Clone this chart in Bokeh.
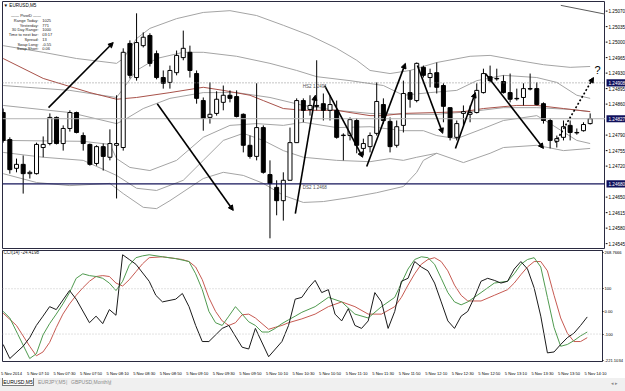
from bokeh.plotting import figure
from bokeh.models import (Range1d, LinearAxis, FixedTicker, Label, Arrow, NormalHead, Span, Div,
                          ColumnDataSource)
from bokeh.layouts import column, row
from bokeh.embed import file_html
from bokeh.resources import INLINE

# ---------------- data ----------------
symbol = "EURUSD,M5"
time_labels = ["5 Nov 2014", "5 Nov 07:10", "5 Nov 07:30", "5 Nov 07:50", "5 Nov 08:10",
               "5 Nov 08:30", "5 Nov 08:50", "5 Nov 09:10", "5 Nov 09:30", "5 Nov 09:50",
               "5 Nov 10:10", "5 Nov 10:30", "5 Nov 10:50", "5 Nov 11:10", "5 Nov 11:30",
               "5 Nov 11:50", "5 Nov 12:10", "5 Nov 12:30", "5 Nov 12:50", "5 Nov 13:10",
               "5 Nov 13:30", "5 Nov 13:50", "5 Nov 14:10"]

opens = [1.24841, 1.24780, 1.24715, 1.24724, 1.24703, 1.24703, 1.24762, 1.24771, 1.24830, 1.24771,
         1.24805, 1.24841, 1.24789, 1.24769, 1.24726, 1.24764, 1.24740, 1.24767, 1.24762, 1.24997,
         1.24920, 1.24992, 1.25015, 1.24974, 1.24920, 1.24909, 1.24931, 1.24965, 1.24977, 1.24929,
         1.24868, 1.24830, 1.24839, 1.24864, 1.24880, 1.24877, 1.24837, 1.24767, 1.24742, 1.24807,
         1.24701, 1.24672, 1.24642, 1.24688, 1.24773, 1.24868, 1.24848, 1.24857, 1.24861, 1.24846,
         1.24846, 1.24789, 1.24789, 1.24823, 1.24760, 1.24764, 1.24794, 1.24859, 1.24821, 1.24767,
         1.24812, 1.24886, 1.24868, 1.24943, 1.24920, 1.24931, 1.24902, 1.24852, 1.24785, 1.24839,
         1.24837, 1.24841, 1.24886, 1.24922, 1.24918, 1.24911, 1.24886, 1.24873, 1.24875, 1.24895,
         1.24895, 1.24861, 1.24823, 1.24776, 1.24785, 1.24812, 1.24796, 1.24800, 1.24816]
highs = [1.24850, 1.24785, 1.24737, 1.24744, 1.24710, 1.24773, 1.24787, 1.24839, 1.24832, 1.24812,
         1.24846, 1.24843, 1.24796, 1.24771, 1.24767, 1.24771, 1.24803, 1.24880, 1.24986, 1.25004,
         1.25065, 1.25022, 1.25020, 1.24981, 1.24936, 1.24947, 1.24981, 1.25026, 1.24992, 1.24936,
         1.24875, 1.24909, 1.24889, 1.24902, 1.24891, 1.24891, 1.24839, 1.24789, 1.24907, 1.24812,
         1.24733, 1.24688, 1.24706, 1.24807, 1.24873, 1.24873, 1.24880, 1.24959, 1.24884, 1.24880,
         1.24868, 1.24794, 1.24830, 1.24828, 1.24782, 1.24796, 1.24909, 1.24873, 1.24830, 1.24823,
         1.24913, 1.24936, 1.24954, 1.24947, 1.24940, 1.24954, 1.24907, 1.24852, 1.24823, 1.24857,
         1.24857, 1.24907, 1.24940, 1.24947, 1.24940, 1.24925, 1.24929, 1.24895, 1.24907, 1.24929,
         1.24909, 1.24864, 1.24828, 1.24789, 1.24823, 1.24823, 1.24805, 1.24819, 1.24839]
lows = [1.24773, 1.24703, 1.24706, 1.24658, 1.24692, 1.24701, 1.24740, 1.24767, 1.24769, 1.24755,
        1.24798, 1.24794, 1.24755, 1.24721, 1.24721, 1.24710, 1.24733, 1.24647, 1.24755, 1.24918,
        1.24913, 1.24988, 1.24945, 1.24916, 1.24895, 1.24895, 1.24925, 1.24959, 1.24920, 1.24861,
        1.24800, 1.24816, 1.24834, 1.24846, 1.24864, 1.24830, 1.24751, 1.24737, 1.24733, 1.24703,
        1.24557, 1.24609, 1.24597, 1.24688, 1.24773, 1.24819, 1.24834, 1.24846, 1.24823, 1.24823,
        1.24782, 1.24733, 1.24778, 1.24749, 1.24744, 1.24751, 1.24789, 1.24816, 1.24751, 1.24762,
        1.24796, 1.24852, 1.24864, 1.24920, 1.24898, 1.24884, 1.24819, 1.24778, 1.24778, 1.24812,
        1.24819, 1.24839, 1.24884, 1.24909, 1.24913, 1.24884, 1.24864, 1.24868, 1.24857, 1.24891,
        1.24857, 1.24816, 1.24760, 1.24762, 1.24778, 1.24778, 1.24791, 1.24798, 1.24814]
closes = [1.24778, 1.24712, 1.24724, 1.24703, 1.24706, 1.24769, 1.24769, 1.24830, 1.24771, 1.24805,
          1.24841, 1.24796, 1.24771, 1.24724, 1.24764, 1.24742, 1.24771, 1.24771, 1.24977, 1.24925,
          1.24999, 1.25011, 1.24952, 1.24920, 1.24907, 1.24936, 1.24970, 1.24986, 1.24936, 1.24873,
          1.24828, 1.24837, 1.24871, 1.24880, 1.24873, 1.24832, 1.24767, 1.24742, 1.24807, 1.24706,
          1.24681, 1.24642, 1.24688, 1.24773, 1.24868, 1.24846, 1.24857, 1.24855, 1.24846, 1.24859,
          1.24785, 1.24790, 1.24825, 1.24767, 1.24771, 1.24789, 1.24866, 1.24823, 1.24764, 1.24809,
          1.24884, 1.24871, 1.24952, 1.24925, 1.24929, 1.24898, 1.24855, 1.24785, 1.24816, 1.24843,
          1.24841, 1.24891, 1.24929, 1.24913, 1.24917, 1.24886, 1.24871, 1.24872, 1.24895, 1.24894,
          1.24859, 1.24823, 1.24778, 1.24782, 1.24809, 1.24796, 1.24795, 1.24814, 1.24827]

# indicator lines (vertices: bar index, value)
ma_red_bars = [0, 6, 13, 17, 20, 25, 30, 33, 37, 39, 42, 45, 50, 52, 55, 57, 60, 65, 69, 72, 77, 80, 84, 88]
ma_red_vals = [1.24963, 1.24918, 1.24886, 1.24871, 1.24875, 1.24886, 1.24898, 1.24891, 1.24880, 1.24868,
               1.24850, 1.24846, 1.24846, 1.24841, 1.24834, 1.24834, 1.24839, 1.24841, 1.24843, 1.24850,
               1.24857, 1.24857, 1.24850, 1.24843]
band1_bars = [0, 6, 11, 17, 18, 20, 22, 26, 30, 34, 38, 42, 46, 50, 53, 55, 58, 61, 65, 70, 73, 77, 81, 85, 88]
band1_vals = [1.24992, 1.24977, 1.24963, 1.24952, 1.24963, 1.25008, 1.25031, 1.25053, 1.25067, 1.25071,
              1.25060, 1.25038, 1.25015, 1.24986, 1.24959, 1.24936, 1.24929, 1.24936, 1.24954, 1.24968,
              1.24970, 1.24959, 1.24949, 1.24943, 1.24945]
band2_bars = [0, 10, 17, 18, 20, 23, 27, 30, 35, 40, 44, 47, 52, 57, 60, 64, 68, 71, 75, 80, 83, 86, 88]
band2_vals = [1.24902, 1.24891, 1.24875, 1.24895, 1.24936, 1.24963, 1.24977, 1.24977, 1.24968, 1.24952,
              1.24936, 1.24922, 1.24913, 1.24902, 1.24880, 1.24886, 1.24891, 1.24913, 1.24925, 1.24920,
              1.24909, 1.24880, 1.24873]
band3_bars = [0, 10, 17, 18, 21, 25, 30, 35, 40, 45, 50, 55, 60, 65, 70, 75, 80, 85, 88]
band3_vals = [1.24857, 1.24841, 1.24816, 1.24823, 1.24850, 1.24873, 1.24886, 1.24886, 1.24875, 1.24857,
              1.24846, 1.24839, 1.24837, 1.24837, 1.24843, 1.24852, 1.24852, 1.24848, 1.24843]
band4_bars = [0, 12, 16, 17, 19, 22, 26, 30, 34, 38, 42, 45, 50, 55, 60, 63, 65, 68, 72, 75, 80, 82, 86, 88]
band4_vals = [1.24778, 1.24776, 1.24769, 1.24737, 1.24717, 1.24710, 1.24733, 1.24785, 1.24812, 1.24816,
              1.24812, 1.24819, 1.24807, 1.24809, 1.24800, 1.24800, 1.24789, 1.24782, 1.24805, 1.24823,
              1.24834, 1.24816, 1.24778, 1.24771]
band5_bars = [0, 6, 12, 17, 20, 23, 27, 30, 33, 36, 39, 42, 45, 50, 55, 58, 60, 62, 65, 69, 73, 75, 80, 84, 88]
band5_vals = [1.24751, 1.24740, 1.24733, 1.24699, 1.24670, 1.24665, 1.24688, 1.24733, 1.24778, 1.24794,
              1.24778, 1.24755, 1.24740, 1.24733, 1.24730, 1.24737, 1.24733, 1.24740, 1.24749, 1.24728,
              1.24749, 1.24762, 1.24767, 1.24755, 1.24760]
band6_bars = [0, 5, 10, 16, 18, 21, 23, 25, 30, 33, 36, 39, 42, 45, 48, 52, 56, 60, 62, 63, 65]
band6_vals = [1.24703, 1.24683, 1.24676, 1.24681, 1.24658, 1.24627, 1.24624, 1.24642, 1.24692, 1.24706,
              1.24699, 1.24681, 1.24654, 1.24638, 1.24640, 1.24649, 1.24660, 1.24674, 1.24706, 1.24733,
              1.24749]

price_ticks = [1.25070, 1.25035, 1.25000, 1.24965, 1.24930, 1.24895, 1.24860, 1.24790,
               1.24755, 1.24720, 1.24650, 1.24615, 1.24580, 1.24545]
hs2_level = 1.24908
ds2_level = 1.24680
bid_level = 1.24827
marked_levels = [1.24908, 1.24827, 1.24680]

# drawn arrows (bar, price)
arrow_x0 = [6.8, 23.1, 43.8, 48.2, 54.5, 62.1, 67.8, 72.3]
arrow_y0 = [1.24852, 1.24861, 1.24613, 1.24902, 1.24719, 1.24947, 1.24760, 1.24929]
arrow_x1 = [16.5, 34.5, 46.8, 53.9, 60.3, 65.9, 70.8, 81.0]
arrow_y1 = [1.24999, 1.24620, 1.24880, 1.24740, 1.24952, 1.24794, 1.24886, 1.24760]
dash_arrow = [82.8, 1.24773, 88.5, 1.24920]
trend_top = [83.6, 1.25083, 90.3, 1.25063]

info_keys = ["Range Today:", "Yesterday:", "30 Day Range:", "Time to next bar:", "Spread:",
             "Swap Long:", "Swap Short:"]
info_vals = ["1025", "771", "1000", "03:17", "13", "-0.55", "0.06"]

# CCI pane
cci_min, cci_max = -221.1034, 268.7666
cci_now = -24.4198
cci_bars = [0, 1, 3, 4, 5, 6, 7, 8, 9, 10, 11, 13, 14, 15, 16, 17, 18, 19, 20, 22, 23, 24, 26, 27, 28, 29,
            30, 31, 33, 34, 36, 37, 38, 40, 42, 43, 44, 45, 46, 47, 48, 49, 50, 51, 52, 53, 54, 55, 56, 57,
            58, 59, 60, 61, 62, 63, 64, 65, 66, 67, 68, 69, 70, 71, 72, 73, 74, 75, 76, 77, 78, 79, 80, 81,
            82, 83, 84, 85, 86, 87, 88]
cci_vals = [-146, -208, -154, -116, -62, -21, 21, 8, 50, 92, 54, -50, -21, -54, 8, -17, 250, 229, 208, 133,
            71, 42, 54, 79, 21, -62, -133, -133, -75, -62, -158, -166, -75, -200, -133, -62, 54, 62, 104,
            137, 83, 96, -12, -42, 12, -62, -75, -42, 83, 42, -75, 0, 133, 146, 220, 196, 179, 125, 42, -42,
            -75, -21, 0, 62, 133, 146, 137, 125, 133, 187, 220, 187, 104, -21, -183, -179, -146, -116, -96,
            -62, -24.4198]
green_bars = [0, 1, 4, 5, 6, 7, 8, 9, 10, 11, 12, 13, 14, 15, 16, 17, 18, 19, 20, 21, 22, 24, 26, 28, 29, 30,
              31, 32, 33, 34, 35, 36, 37, 38, 39, 40, 41, 42, 43, 44, 45, 47, 49, 51, 53, 55, 57, 59, 60, 61,
              62, 63, 64, 65, 66, 67, 68, 69, 70, 72, 74, 76, 77, 78, 79, 80, 81, 82, 83, 84, 85, 86, 87, 88]
green_vals = [0, -29, -208, -187, -104, -54, -12, 33, 83, 146, 166, 158, 154, 146, 125, 92, 133, 204, 237, 245,
              250, 241, 233, 220, 166, 96, 0, -50, -62, -21, 21, -12, -46, -62, -91, -91, -75, -54, -37, -21,
              -4, 21, 62, 42, -12, -29, 21, 62, 125, 187, 229, 241, 237, 208, 146, 83, 42, 29, 42, 83, 125,
              133, 166, 208, 229, 237, 196, 62, -71, -154, -146, -129, -108, -91]
red_bars = [0, 2, 4, 5, 6, 7, 8, 9, 10, 11, 12, 13, 14, 15, 16, 17, 18, 19, 20, 21, 22, 24, 26, 27, 28, 29,
            30, 31, 32, 33, 34, 35, 36, 37, 38, 39, 40, 41, 42, 43, 45, 47, 49, 51, 53, 55, 57, 59, 60, 61,
            62, 63, 64, 65, 66, 67, 68, 69, 70, 72, 74, 76, 77, 78, 79, 80, 81, 82, 83, 84, 85, 86, 87, 88]
red_vals = [-8, -62, -154, -196, -179, -137, -71, -12, 33, 71, 104, 133, 154, 158, 154, 125, 112, 140, 175,
            210, 237, 241, 233, 229, 220, 196, 140, 60, 0, -42, -62, -50, -15, -12, -29, -54, -79, -70, -62,
            -50, -33, -12, 21, 42, 21, -12, -12, 21, 62, 116, 166, 208, 229, 237, 220, 179, 116, 71, 46, 46,
            71, 96, 125, 162, 196, 220, 220, 179, 71, -29, -96, -133, -133, -116]
cci_levels = [100, -100]
cci_ticks = [258.5, 100, 0, -100, -216.5]
cci_tick_text = ["268.7666", "100", "0.00", "-100", "-221.1034"]

# ---------------- styling ----------------
FONT = "Liberation Sans"
FS = "4.6px"
FRAME = "#2a2a40"
GRAY = "#a4a4a4"
NAVY = "#10105c"

xr = Range1d(-0.1, 90.3)
yr_price = Range1d(1.24534, 1.250917)

# ---- price pane ----
p = figure(width=605, height=249, x_range=xr, y_range=yr_price,
           output_backend="svg", toolbar_location=None, x_axis_location=None, y_axis_location=None,
           min_border_left=2, min_border_right=0, min_border_top=1, min_border_bottom=1,
           background_fill_color="white", border_fill_color="white",
           outline_line_color=FRAME, outline_line_width=1)
p.xgrid.visible = False
p.ygrid.visible = False

p.add_layout(Span(location=bid_level, dimension="width", line_color="#b4b4b4", line_width=1))
p.add_layout(Span(location=hs2_level, dimension="width", line_color="#8a8a8a", line_width=1, line_dash="1 2"))
p.add_layout(Span(location=ds2_level, dimension="width", line_color="#15155a", line_width=1.2))

for bx, bv in [(band1_bars, band1_vals), (band2_bars, band2_vals), (band3_bars, band3_vals),
               (band4_bars, band4_vals), (band5_bars, band5_vals), (band6_bars, band6_vals)]:
    p.line(bx, bv, line_color=GRAY, line_width=1)
p.line(ma_red_bars, ma_red_vals, line_color="#a8524a", line_width=1)

idx = list(range(len(opens)))
tops = [max(o, c) for o, c in zip(opens, closes)]
bots = [min(o, c) for o, c in zip(opens, closes)]
fills = ["white" if c >= o else "black" for o, c in zip(opens, closes)]
src = ColumnDataSource(dict(x=idx, top=tops, bottom=bots, high=highs, low=lows, fill=fills))
p.segment(x0="x", y0="low", x1="x", y1="high", source=src, line_color="black", line_width=1)
p.vbar(x="x", width=0.6, top="top", bottom="bottom", fill_color="fill", line_color="black",
       line_width=1, source=src)

for x0, y0, x1, y1 in zip(arrow_x0, arrow_y0, arrow_x1, arrow_y1):
    p.add_layout(Arrow(end=NormalHead(size=5, fill_color="black", line_color="black", line_width=1),
                       x_start=x0, y_start=y0, x_end=x1, y_end=y1, line_color="black", line_width=1.6))
p.add_layout(Arrow(end=NormalHead(size=5, fill_color="black", line_color="black", line_width=1),
                   x_start=dash_arrow[0], y_start=dash_arrow[1], x_end=dash_arrow[2], y_end=dash_arrow[3],
                   line_color="black", line_width=1.6, line_dash="2 2"))
p.line([trend_top[0], trend_top[2]], [trend_top[1], trend_top[3]], line_color="#5a5a5a", line_width=1)
p.add_layout(Label(x=89.1, y=1.24936, text="?", text_font=FONT, text_font_size="11px",
                   text_align="center", text_baseline="middle", text_color="black"))

p.add_layout(Label(x=44.9, y=hs2_level, text="HS2  1.2491", text_font=FONT, text_font_size=FS,
                   text_baseline="top", text_color="#555555", y_offset=-1))
p.add_layout(Label(x=44.9, y=ds2_level, text="DS2  1.2468", text_font=FONT, text_font_size=FS,
                   text_baseline="top", text_color="#555555", y_offset=-1))

p.add_layout(Label(x=0.05, y=1.25083, text="\u25bc " + symbol, text_font=FONT, text_font_size=FS,
                   text_baseline="middle", text_color="black"))
p.add_layout(Label(x=3.6, y=1.25060, text="\u2014\u2014  PivotD  \u2014\u2014", text_font=FONT,
                   text_font_size="4px", text_align="center", text_baseline="middle", text_color="#222222"))
for k, (key, val) in enumerate(zip(info_keys, info_vals)):
    yy = 1.25049 - k * 0.000107
    p.add_layout(Label(x=5.3, y=yy, text=key, text_font=FONT, text_font_size="4px",
                       text_align="right", text_baseline="middle", text_color="#222222"))
    p.add_layout(Label(x=5.85, y=yy, text=val, text_font=FONT, text_font_size="4px",
                       text_align="left", text_baseline="middle", text_color="#222222"))

# ---- price scale column (shares the price y-scale) ----
pa = figure(width=20, height=249, x_range=Range1d(0, 20), y_range=yr_price,
            output_backend="svg", toolbar_location=None, x_axis_location=None, y_axis_location=None,
            min_border_left=0, min_border_right=0, min_border_top=1, min_border_bottom=1,
            background_fill_color="white", border_fill_color="white", outline_line_color=None)
pa.xgrid.visible = False
pa.ygrid.visible = False
tick_src = ColumnDataSource(dict(y=price_ticks, t=["%.5f" % v for v in price_ticks]))
pa.segment(x0=0, x1=2, y0="y", y1="y", source=tick_src, line_color="black", line_width=1)
pa.text(x=3, y="y", text="t", source=tick_src, text_font_size=FS, text_baseline="middle",
        text_align="left", text_color="black", text_font={"value": FONT})
box_h = 0.00016
mark_src = ColumnDataSource(dict(y=marked_levels, t=["%.5f" % v for v in marked_levels]))
pa.rect(x=10.5, y="y", width=19, height=box_h, source=mark_src, fill_color=NAVY, line_color=None)
pa.text(x=3, y="y", text="t", source=mark_src, text_font_size=FS, text_baseline="middle",
        text_align="left", text_color="white", text_font={"value": FONT})

# ---------------- CCI pane ----------------
q = figure(width=625, height=129, x_range=xr, y_range=Range1d(cci_min, cci_max),
           output_backend="svg", toolbar_location=None, x_axis_location=None, y_axis_location=None,
           min_border_left=2, min_border_right=20, min_border_top=1, min_border_bottom=10,
           background_fill_color="white", border_fill_color="white",
           outline_line_color=FRAME, outline_line_width=1)
q.xgrid.visible = False
q.ygrid.visible = False

for lv in cci_levels:
    q.add_layout(Span(location=lv, dimension="width", line_color="#c4c4c4", line_width=1, line_dash="1 2"))

q.line(red_bars, red_vals, line_color="#c65a52", line_width=1)
q.line(green_bars, green_vals, line_color="#4f9a4f", line_width=1)
q.line(cci_bars, cci_vals, line_color="#1a1a1a", line_width=1)

cax = LinearAxis(ticker=FixedTicker(ticks=cci_ticks),
                 major_label_overrides={t: s for t, s in zip(cci_ticks, cci_tick_text)},
                 axis_line_color=FRAME, major_tick_line_color="black", major_tick_out=1, major_tick_in=0,
                 minor_tick_line_color=None, major_label_text_font=FONT, major_label_text_font_size="4.1px",
                 major_label_text_color="black", major_label_standoff=1)
q.add_layout(cax, "right")

time_ticks = [4 * k + 1.25 for k in range(len(time_labels))]
tax = LinearAxis(ticker=FixedTicker(ticks=time_ticks),
                 major_label_overrides={t: s for t, s in zip(time_ticks, time_labels)},
                 axis_line_color=None, major_tick_line_color=None, minor_tick_line_color=None,
                 major_label_text_font=FONT, major_label_text_font_size="4.1px",
                 major_label_text_color="black", major_label_standoff=3)
q.add_layout(tax, "below")

q.add_layout(Label(x=0.05, y=259.5, text="CCI(14) %.4f" % cci_now, text_font=FONT, text_font_size=FS,
                   text_baseline="middle", text_color="#222222"))

# ---------------- tab bar ----------------
tabs = ["EURUSD,M5", "EURJPY,M5", "GBPUSD,Monthly"]
html = ('<div style="position:relative;width:625px;height:13px;background:#f0f0f0;'
        'font-family:\'Liberation Sans\';font-size:5px;overflow:hidden;">'
        '<div style="position:absolute;left:2px;top:0px;width:32px;height:8px;background:#ffffff;'
        'border:1px solid #7a7a7a;border-top:none;text-align:center;line-height:8px;color:#000;">%s</div>'
        '<div style="position:absolute;left:38px;top:0px;line-height:9px;color:#8a8a8a;">%s</div>'
        '<div style="position:absolute;left:66px;top:0px;line-height:9px;color:#9a9a9a;">|</div>'
        '<div style="position:absolute;left:71px;top:0px;line-height:9px;color:#8a8a8a;">%s</div>'
        '<div style="position:absolute;left:110px;top:0px;line-height:9px;color:#9a9a9a;">|</div>'
        '<div style="position:absolute;left:611px;top:1px;line-height:9px;color:#8a8a8a;">&#9666; &#9656;</div>'
        '</div>') % (tabs[0], tabs[1], tabs[2])
tabbar = Div(text=html, width=625, height=13, margin=(0, 0, 0, 0))

layout = column(row(p, pa, spacing=0), q, tabbar, spacing=0)
open("out.html", "w").write(file_html(layout, INLINE))
